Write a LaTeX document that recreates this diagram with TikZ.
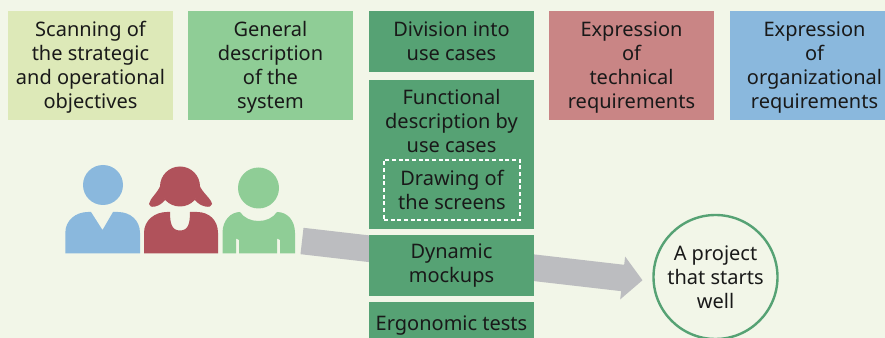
\documentclass[tikz,border=0pt]{standalone}
\usepackage{fontspec}
\setmainfont{Noto Sans}
\usepackage{xcolor}
\usetikzlibrary{arrows.meta,backgrounds}
\definecolor{paleback}{HTML}{F2F6E8}
\definecolor{paleyellow}{HTML}{DDE9B8}
\definecolor{lightgreen}{HTML}{8FCD96}
\definecolor{darkgreen}{HTML}{56A274}
\definecolor{softred}{HTML}{C98585}
\definecolor{softblue}{HTML}{8AB8DD}
\definecolor{deepred}{HTML}{B0525B}
\definecolor{arrowgray}{HTML}{BCBDC0}
\newcommand{\toppad}{\rule{0pt}{14.5pt}}
\tikzset{
    phase/.style={minimum width=123.75pt, inner sep=0pt, align=center, text=black!90,
        font=\fontsize{15}{18}\selectfont},
    tallbox/.style={phase, minimum height=81.75pt},
    fatarrow/.style={arrowgray, line width=19.9pt, -{Triangle[length=15pt,width=31.5pt]}}
}

\begin{document}
\begin{tikzpicture}[x=0.75pt, y=-0.75pt]
    \clip (0,0) rectangle (885,338);

    % Top row of phases
    \node[tallbox, fill=paleyellow] (scanning) at (90.5,65.5)
        {\toppad Scanning of\\the strategic\\and operational\\objectives};
    \node[tallbox, fill=lightgreen] (general) at (270.5,65.5)
        {\toppad General\\description\\of the\\system};
    \node[tallbox, fill=softred] (technical) at (631.5,65.5)
        {\toppad Expression\\of\\technical\\requirements};
    \node[tallbox, fill=softblue, minimum width=126.75pt] (organizational) at (814.5,65.5)
        {\toppad Expression\\of\\organizational\\requirements};

    % Central column
    \node[phase, fill=darkgreen, minimum height=45.75pt] (division) at (451.5,41.5)
        {Division into\\use cases};
    \node[phase, fill=darkgreen, minimum height=111.75pt] (functional) at (451.5,154.5) {};
    \node[phase] (functionaltext) at (451.5,121)
        {Functional\\description by\\use cases};
    \node[phase, minimum width=102pt, minimum height=45pt, draw=white, densely dashed,
        line width=1pt] (screens) at (452,190) {Drawing of\\the screens};
    \node[phase, fill=darkgreen, minimum height=45.75pt] (mockups) at (451.5,265.5)
        {Dynamic\\mockups};
    \node[phase, fill=darkgreen, minimum height=36pt] (ergonomic) at (451.5,326)
        {Ergonomic tests};

    % Result of the process
    \node[circle, draw=darkgreen, line width=1.8pt, fill=paleback, minimum size=93pt,
        inner sep=0pt, align=center, text=black!90, font=\fontsize{15}{18}\selectfont]
        (project) at (715.5,277) {A project\\that starts\\well};

    % Blue person
    \fill[softblue] (103,185) circle (20);
    \fill[softblue] (65.3,253.5) -- (65.3,233) .. controls (65.3,220) and (76,212) .. (88,212)
        -- (91,212) -- (102.5,230) -- (113,212) -- (118,212)
        .. controls (130,212) and (140,220) .. (140,233) -- (140,253.5) -- cycle;

    % Red person
    \fill[deepred] (180,186.5) circle (20);
    \fill[deepred] (161,184) .. controls (158,193) and (150,198) .. (149,204)
        .. controls (149,209) and (160,207) .. (165,200) -- cycle;
    \fill[deepred] (199,184) .. controls (202,193) and (211,198) .. (212,204)
        .. controls (212,209) and (200,207) .. (195,200) -- cycle;
    \fill[deepred] (144,253.5) -- (144,233) .. controls (144,220) and (155,212) .. (167,212)
        -- (170,212) .. controls (170,224) and (172,230.5) .. (180,230.5)
        .. controls (188,230.5) and (190,224) .. (190,212) -- (197,212)
        .. controls (209,212) and (218,220) .. (218,233) -- (218,253.5) -- cycle;

    % Green person
    \fill[lightgreen] (258.5,188) circle (20.5);
    \fill[lightgreen] (222.5,253.5) -- (222.5,233) .. controls (222.5,220) and (231,212) .. (240,212)
        .. controls (244,218) and (251,221) .. (258.5,221)
        .. controls (266,221) and (273,218) .. (277,212)
        .. controls (287,212) and (295,220) .. (295,233) -- (295,253.5)
        -- (280,253.5) -- (280,240) -- (277,238.5) -- (277,253.5)
        -- (239,253.5) -- (239,240) -- (236,238.5) -- (236,253.5) -- cycle;
    \coordinate (people) at (302,241);

    % Page colour and grey arrow go under everything
    \begin{scope}[on background layer]
        \fill[paleback] (0,0) rectangle (885,338);
        \draw[fatarrow, shorten >=7.5pt] (people) -- (project.184);
    \end{scope}
\end{tikzpicture}
\end{document}
